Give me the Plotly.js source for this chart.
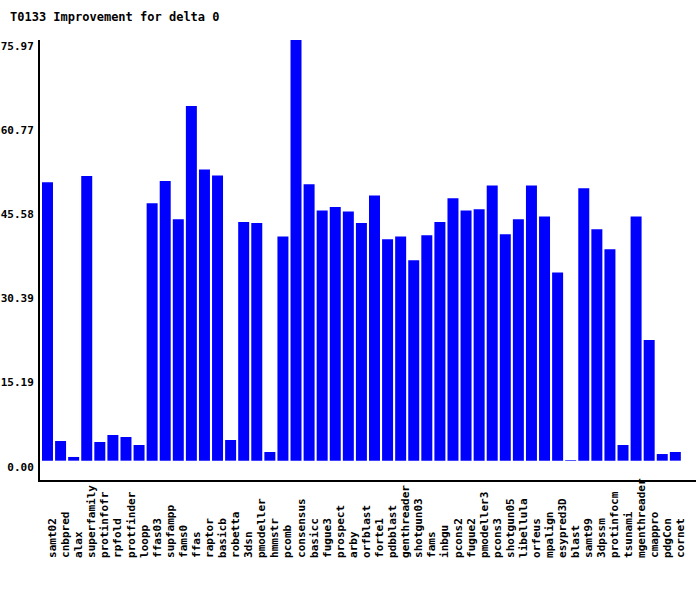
<!DOCTYPE html>
<html>
<head>
<meta charset="utf-8">
<script src="https://cdn.plot.ly/plotly-3.0.1.min.js"></script>
<style>html,body{margin:0;padding:0;background:#fff;}#chart{width:700px;height:590px;}</style>
</head>
<body>
<div id="chart"></div>
<script>
const categories = ["samt02","cnbpred","alax","superfamily","protinfofr","rpfold","protfinder","loopp","ffas03","supfampp","fams0","ffas","raptor","basicb","robetta","3dsn","pmodeller","hmmstr","pcomb","consensus","basicc","fugue3","prospect","arby","orfblast","forte1","pdbblast","genthreader","shotgun03","fams","inbgu","pcons2","fugue2","pmodeller3","pcons3","shotgun05","libellula","orfeus","mpalign","esypred3D","blast","samt99","3dpssm","protinfocm","tsunami","mgenthreader","cmappro","pdgCon","cornet"];
const improvement = [50.3,3.55,0.67,51.4,3.37,4.64,4.28,2.83,46.5,50.5,43.6,64.05,52.6,51.5,3.73,43.1,42.9,1.57,40.5,75.97,49.9,45.2,45.8,45.0,42.9,47.9,40.0,40.5,36.2,40.7,43.1,47.4,45.2,45.4,49.7,40.9,43.6,49.7,44.1,34.0,0.12,49.2,41.8,38.2,2.83,44.1,21.8,1.2,1.57];
const yTickVals = [0, 15.194, 30.388, 45.582, 60.776, 75.97];
const yTickText = ["0.00","15.19","30.39","45.58","60.77","75.97"];

// pad labels so their starts line up at the bottom (monospace font)
const maxLen = Math.max(...categories.map(c => c.length));
const xTickText = categories.map(c => c + "\u00a0".repeat(maxLen - c.length));

const font = {family: "DejaVu Sans Mono", size: 11, color: "#000", weight: "bold"};
const trace = {
  type: "bar",
  x: categories,
  y: improvement,
  marker: {color: "#0000ff", line: {width: 0}},
  hoverinfo: "x+y"
};
const layout = {
  width: 700, height: 590,
  margin: {l: 40, r: 4, t: 40, b: 110, pad: 0},
  paper_bgcolor: "#fff", plot_bgcolor: "#fff",
  showlegend: false,
  bargap: 0.16,
  title: {text: "T0133 Improvement for delta 0", x: 10/700, xanchor: "left", xref: "container", y: 1 - 17/590, yanchor: "middle", yref: "container",
          font: {family: "DejaVu Sans Mono", size: 12, color: "#000", weight: "bold"}},
  xaxis: {
    type: "category",
    range: [-0.573, 49.58],
    showline: true, linecolor: "#000", linewidth: 2,
    showgrid: false, zeroline: false, ticks: "",
    tickmode: "array", tickvals: categories, ticktext: xTickText,
    tickangle: -90, tickfont: font,
    ticklabelshift: 5,
    ticklabelstandoff: -8,
    fixedrange: true
  },
  yaxis: {
    range: [-3.49, 75.97],
    showline: true, linecolor: "#000", linewidth: 2,
    showgrid: false, zeroline: false, ticks: "",
    tickmode: "array", tickvals: yTickVals, ticktext: yTickText,
    tickfont: font,
    ticklabelshift: 6,
    ticklabelstandoff: 2,
    fixedrange: true
  }
};
Plotly.newPlot("chart", [trace], layout, {displayModeBar: false, staticPlot: true});
</script>
</body>
</html>
